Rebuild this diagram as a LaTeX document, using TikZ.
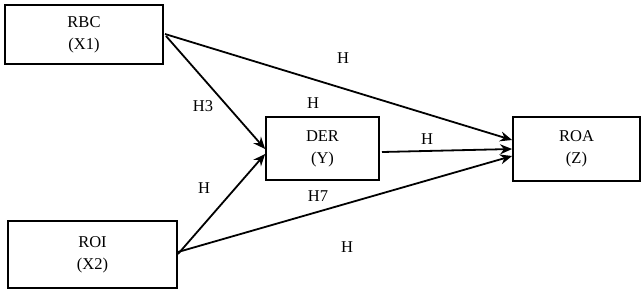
\documentclass[tikz,border=0pt]{standalone}
\usepackage{fontspec}
\setmainfont{Liberation Serif}
\usetikzlibrary{arrows.meta}
\begin{document}
\begin{tikzpicture}[x=1pt,y=-1pt,
  var/.style={draw, line width=1.8pt, align=center, font=\fontsize{16.5}{22}\selectfont, inner sep=0pt},
  conn/.style={line width=1.8pt, -{Stealth[length=12pt,width=10pt]}},
  lbl/.style={font=\fontsize{16.5}{18}\selectfont, inner sep=0pt}]
\useasboundingbox (0,0) rectangle (643,293);
\node[var, minimum width=158pt, minimum height=59pt] (rbc) at (84,34.5) {RBC\\(X1)};
\node[var, minimum width=169pt, minimum height=67pt] (roi) at (92.5,254.5) {ROI\\(X2)};
\node[var, minimum width=113pt, minimum height=63pt] (der) at (322.5,148.5) {DER\\(Y)};
\node[var, minimum width=127pt, minimum height=64pt] (roa) at (576.5,149) {ROA\\(Z)};
\coordinate (a1) at (165,34);
\coordinate (a2) at (166,36);
\coordinate (b1) at (178,254);
\coordinate (b2) at (178,252);
\coordinate (d1) at (382,152);
\draw[conn] (a1) -- (roa.west |- 0,140) coordinate (t1);
\draw[conn] (a2) -- (der.west |- 0,149) coordinate (t2);
\draw[conn] (b1) -- (der.west |- 0,154) coordinate (t3);
\draw[conn] (b2) -- (roa.west |- 0,156) coordinate (t4);
\draw[conn] (d1) -- (roa.west |- 0,149) coordinate (t5);
\node[lbl] (h1) at (343,58) {H};
\node[lbl] (h3) at (203,106) {H3};
\node[lbl] (h2) at (313,103) {H};
\node[lbl] (h4) at (427,139) {H};
\node[lbl] (h5) at (204,188) {H};
\node[lbl] (h7) at (318,196) {H7};
\node[lbl] (h6) at (347,247) {H};
\end{tikzpicture}
\end{document}
